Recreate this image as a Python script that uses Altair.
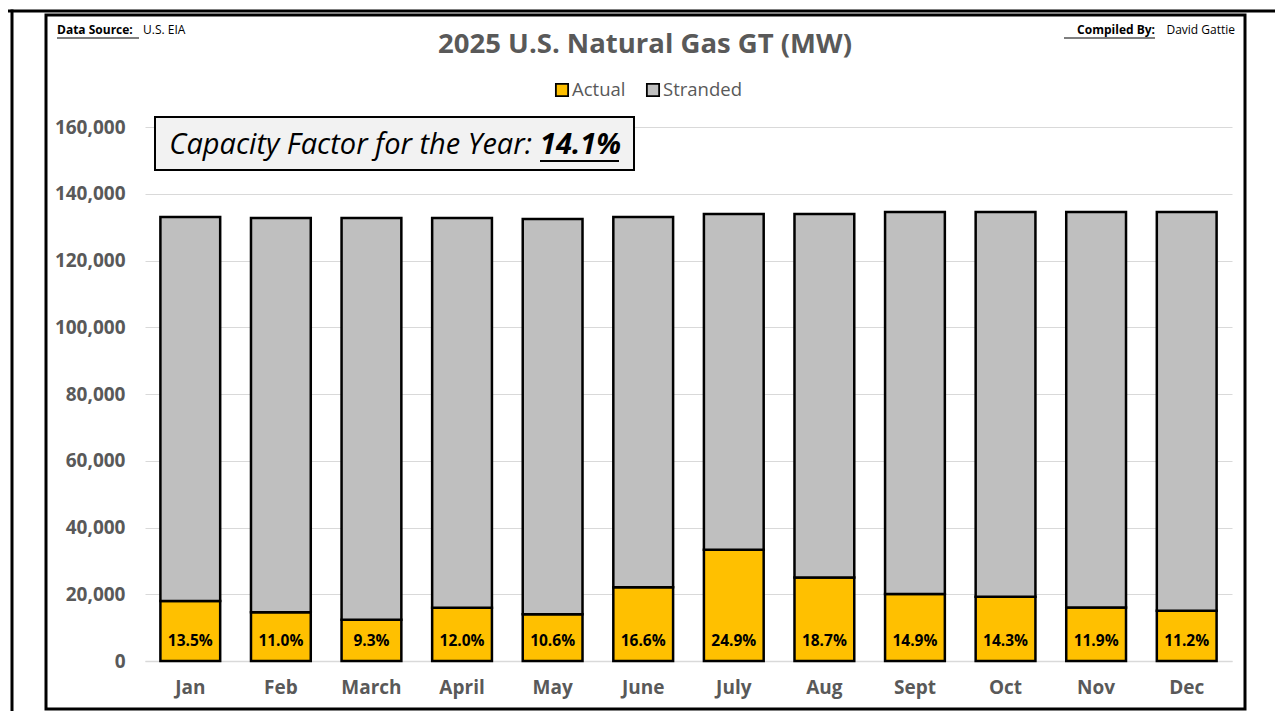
import altair as alt
import pandas as pd

months = ["Jan", "Feb", "March", "April", "May", "June", "July", "Aug", "Sept", "Oct", "Nov", "Dec"]
actual = [17960, 14600, 12340, 15920, 14030, 22080, 33340, 25040, 20040, 19230, 16010, 15060]
stranded = [115040, 118100, 120360, 116780, 118370, 110920, 100560, 108860, 114460, 115270, 118490, 119440]
pct_labels = ["13.5%", "11.0%", "9.3%", "12.0%", "10.6%", "16.6%", "24.9%", "18.7%", "14.9%", "14.3%", "11.9%", "11.2%"]
series = ["Actual", "Stranded"]
colors = ["#FFC000", "#BFBFBF"]
y_ticks = [0, 20000, 40000, 60000, 80000, 100000, 120000, 140000, 160000]

FONT = "Open Sans"
GREY = "#595959"

rows = []
for i, m in enumerate(months):
    rows.append({"month": m, "series": "Actual", "value": actual[i], "ord": 0})
    rows.append({"month": m, "series": "Stranded", "value": stranded[i], "ord": 1})
df = pd.DataFrame(rows)
lab = pd.DataFrame({"month": months, "label": pct_labels})
one = pd.DataFrame({"k": [0]})

W, H = 1087, 534

x_enc = alt.X("month:N", sort=months, title=None,
              scale=alt.Scale(paddingInner=0.34, paddingOuter=0.17),
              axis=alt.Axis(labelFont=FONT, labelFontSize=19, labelFontWeight="bold",
                            labelColor=GREY, labelPadding=17, ticks=False,
                            domainColor="#d9d9d9", domainWidth=1.5, labelAngle=0))

bars = alt.Chart(df).mark_bar(stroke="black", strokeWidth=2.5).encode(
    x=x_enc,
    y=alt.Y("value:Q", stack="zero", title=None,
            scale=alt.Scale(domain=[0, 160000], nice=False),
            axis=alt.Axis(values=y_ticks, labelExpr="format(datum.value, ',')",
                          labelFont=FONT, labelFontSize=19,
                          labelFontWeight="bold", labelColor=GREY, labelPadding=20,
                          ticks=False, domain=False, gridColor="#d9d9d9", gridWidth=1)),
    color=alt.Color("series:N", scale=alt.Scale(domain=series, range=colors), legend=None),
    order=alt.Order("ord:Q", sort="ascending"),
)

labels = alt.Chart(lab).mark_text(font=FONT, fontSize=15.5, fontWeight="bold", color="black",
                                  baseline="middle").encode(
    x=alt.X("month:N", sort=months),
    y=alt.value(514),
    text="label:N",
)

def txt(s, x, y, size, weight="normal", style="normal", align="left", color="black", baseline="middle"):
    return alt.Chart(one).mark_text(text=s, font=FONT, fontSize=size, fontWeight=weight,
                                    fontStyle=style, align=align, color=color,
                                    baseline=baseline).encode(x=alt.value(x), y=alt.value(y))

def rule(x1, x2, y1, y2, w=1.5, color="black"):
    return alt.Chart(one).mark_rule(color=color, strokeWidth=w).encode(
        x=alt.value(x1), x2=alt.value(x2), y=alt.value(y1), y2=alt.value(y2))

def hrule(x1, x2, y, w=3):
    return alt.Chart(one).mark_rule(color="black", strokeWidth=w).encode(
        x=alt.value(x1), x2=alt.value(x2), y=alt.value(y))

def vrule(x, y1, y2, w=3, color="black"):
    return alt.Chart(one).mark_rule(color=color, strokeWidth=w).encode(
        x=alt.value(x), y=alt.value(y1), y2=alt.value(y2))

def box(x1, x2, y1, y2, fill, w, fo=1):
    return alt.Chart(one).mark_rect(fill=fill, fillOpacity=fo, stroke="black", strokeWidth=w).encode(
        x=alt.value(x1), x2=alt.value(x2), y=alt.value(y1), y2=alt.value(y2))

frame = box(-99, 1100, -112, 582, "white", 3, fo=0)
outer_top = hrule(-137, 1140, -116)
outer_left = vrule(-133, -117.5, 600)

title = txt("2025 U.S. Natural Gas GT (MW)", 500, -82, 27.5, weight="bold", align="center", color=GREY)

leg_sq = alt.Chart(pd.DataFrame({"s": series, "x": [417, 508]})).mark_square(
    size=150, stroke="black", strokeWidth=1.8, opacity=1).encode(
    x=alt.X("x:Q", scale=None), y=alt.value(-37),
    fill=alt.Color("s:N", scale=alt.Scale(domain=series, range=colors), legend=None))
leg_t1 = txt("Actual", 427, -37, 18.5, color=GREY)
leg_t2 = txt("Stranded", 518, -37, 18.5, color=GREY)

cf_box = box(10, 489, -10, 43, "#f2f2f2", 2)
cf_t1 = txt("Capacity Factor for the Year:", 387, 18, 29, style="italic", align="right")
cf_t2 = txt("14.1%", 395, 18, 29, weight="bold", style="italic")
cf_ul = rule(395, 474, 34, 34, w=2)

ds1 = txt("Data Source:", -88, -97, 12, weight="bold")
ds2 = txt("U.S. EIA", -2, -97, 12)
ds_ul = rule(-88, -6, -89, -89, w=1.2)
cb1 = txt("Compiled By:", 1010, -97, 12, weight="bold", align="right")
cb2 = txt("David Gattie", 1090, -97, 12, align="right")
cb_ul = rule(919, 1010, -89, -89, w=1.2)

chart = alt.layer(
    frame, bars, labels, title, leg_sq, leg_t1, leg_t2,
    cf_box, cf_t1, cf_t2, cf_ul, ds1, ds2, ds_ul, cb1, cb2, cb_ul, outer_top, outer_left
).properties(
    width=W, height=H,
    autosize=alt.AutoSizeParams(type="none"),
    padding={"left": 137, "top": 119, "right": 43, "bottom": 50},
    background="white",
).configure_view(strokeWidth=0)

chart.save("out.html", embed_options={"renderer": "svg", "actions": False})
